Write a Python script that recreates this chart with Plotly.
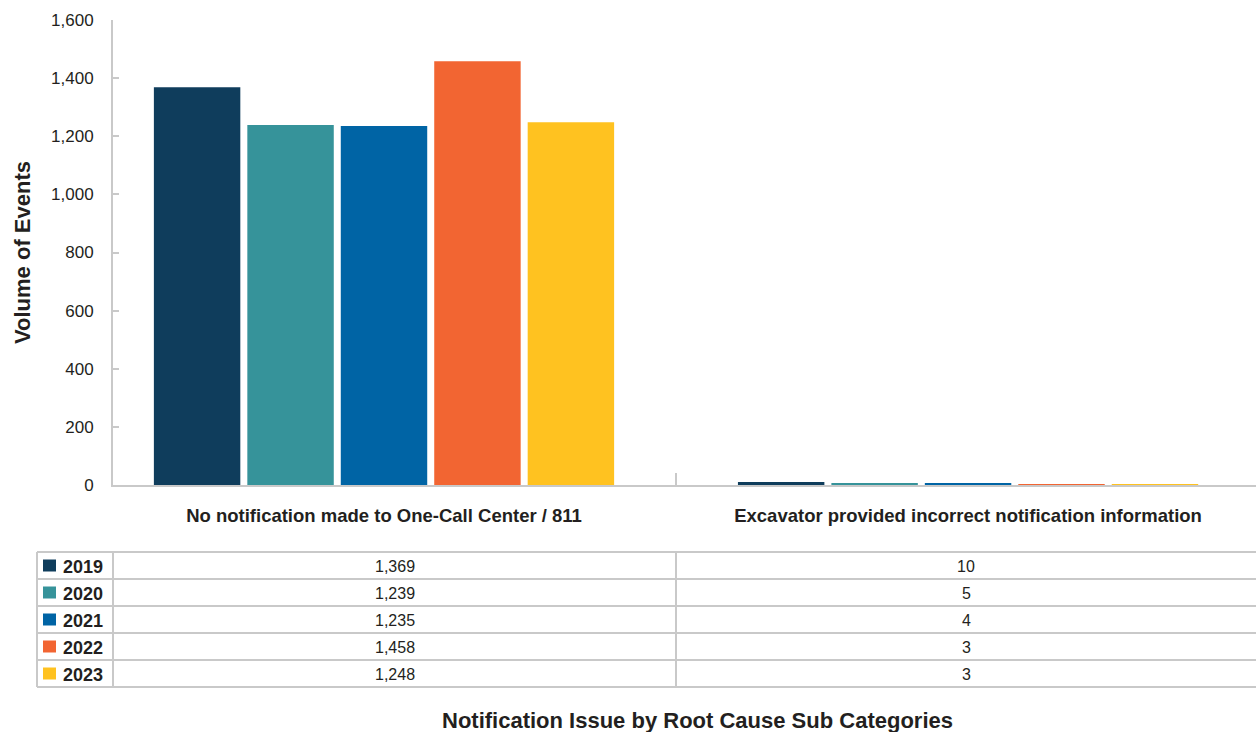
import plotly.graph_objects as go

# Root cause sub categories and yearly event counts
categories = [
    "No notification made to One-Call Center / 811",
    "Excavator provided incorrect notification information",
]
years = ["2019", "2020", "2021", "2022", "2023"]
values = {
    "2019": [1369, 10],
    "2020": [1239, 5],
    "2021": [1235, 4],
    "2022": [1458, 3],
    "2023": [1248, 3],
}
colors = {
    "2019": "#0f3d5c",
    "2020": "#36939a",
    "2021": "#0064a5",
    "2022": "#f26532",
    "2023": "#ffc220",
}

W, H = 1256, 732
L, T, B = 113, 20, 247
PLOT_W = W - L
PLOT_H = H - T - B
TEXT = "#231f20"
GRID = "#c9c9c9"
FONT = "Liberation Sans, Arial, sans-serif"


def px_x(x):
    return (x - L) / PLOT_W


def px_y(y):
    return (H - B - y) / PLOT_H


fig = go.Figure()
for yr in years:
    fig.add_trace(go.Bar(
        x=categories, y=values[yr], name=yr,
        marker=dict(color=colors[yr], line=dict(width=0)),
        showlegend=False, hoverinfo="x+y+name",
    ))

fig.update_layout(
    width=W, height=H,
    margin=dict(l=L, r=0, t=T, b=B, pad=0),
    paper_bgcolor="white", plot_bgcolor="white",
    barmode="group", bargap=0.2, bargroupgap=0.075,
    font=dict(family=FONT, color=TEXT),
)
fig.update_xaxes(
    type="category", range=[-0.464, 1.493],
    showline=True, linecolor=GRID, linewidth=2,
    ticks="inside", tickson="boundaries", ticklen=12, tickwidth=2, tickcolor=GRID,
    showgrid=False, tickfont=dict(size=18.5, color=TEXT),
    tickprefix="<b>", ticksuffix="</b>", ticklabelstandoff=13,
)
fig.update_yaxes(
    range=[0, 1600], dtick=200, tickformat=",d",
    showline=True, linecolor=GRID, linewidth=2,
    ticks="inside", ticklen=6, tickwidth=2, tickcolor=GRID,
    showgrid=False, zeroline=False,
    tickfont=dict(size=17, color=TEXT), ticklabelstandoff=14,
    title=dict(text="<b>Volume of Events</b>", font=dict(size=22, color=TEXT), standoff=14),
)

# Data table beneath the chart
row_top = 552
row_h = 27
table_left = 37
col_div = [L, 676]
table_right = W
n_rows = len(years)
line = dict(color=GRID, width=2)
for i in range(n_rows + 1):
    yy = row_top + i * row_h
    fig.add_shape(type="line", xref="paper", yref="paper",
                  x0=px_x(table_left), x1=px_x(table_right), y0=px_y(yy), y1=px_y(yy), line=line)
for xx in [table_left] + col_div:
    fig.add_shape(type="line", xref="paper", yref="paper",
                  x0=px_x(xx), x1=px_x(xx), y0=px_y(row_top), y1=px_y(row_top + n_rows * row_h), line=line)

col_centers = [(col_div[0] + col_div[1]) / 2, (col_div[1] + table_right) / 2]
for i, yr in enumerate(years):
    cy = row_top + i * row_h + row_h / 2
    fig.add_shape(type="rect", xref="paper", yref="paper",
                  x0=px_x(43), x1=px_x(56), y0=px_y(cy - 6), y1=px_y(cy + 6),
                  fillcolor=colors[yr], line=dict(width=0))
    fig.add_annotation(xref="paper", yref="paper", x=px_x(61), y=px_y(cy + 1),
                       text=f"<b>{yr}</b>", showarrow=False, xanchor="left", yanchor="middle",
                       font=dict(size=18, color=TEXT))
    for j, cx in enumerate(col_centers):
        fig.add_annotation(xref="paper", yref="paper", x=px_x(cx), y=px_y(cy + 1),
                           text=f"{values[yr][j]:,}", showarrow=False, xanchor="center",
                           yanchor="middle", font=dict(size=16, color=TEXT))

fig.add_annotation(xref="paper", yref="paper", x=px_x(697), y=px_y(720),
                   text="<b>Notification Issue by Root Cause Sub Categories</b>",
                   showarrow=False, xanchor="center", yanchor="middle",
                   font=dict(size=22, color=TEXT))

fig.write_html("out.html")
